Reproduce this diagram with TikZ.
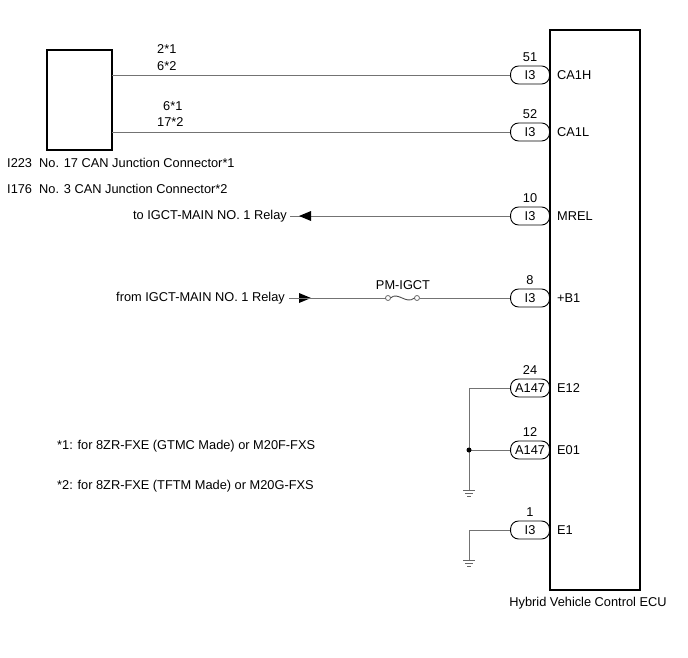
\documentclass[tikz,border=0pt]{standalone}
\usepackage{fontspec}
\setmainfont{Liberation Sans}
\usetikzlibrary{positioning}
\tikzset{
  wire/.style={draw=black!55, line width=0.8pt},
  pill/.style={draw, rounded corners=8pt, minimum width=39pt, minimum height=18pt, inner sep=0pt, line width=0.9pt, anchor=east},
  txt/.style={inner sep=0pt, font=\fontsize{12.8}{15}\selectfont},
  gnd/.pic={\draw[black!60, line width=0.8pt] (-6,0) -- (6,0) (-4,3) -- (4,3) (-2,6) -- (2,6);}
}
\begin{document}
\begin{tikzpicture}[x=1pt,y=-1pt]
\useasboundingbox (0,0) rectangle (688,658);
% boxes
\draw[line width=1.2pt] (47,50) rectangle (112,150);
\draw[line width=1.6pt] (550,30) rectangle (640,590);
\node[txt] (ecu) at (588,603) {Hybrid Vehicle Control ECU};
\node[txt, anchor=west] (j1) at (7,163) {I223\ \ No. 17 CAN Junction Connector*1};
\node[txt, anchor=west] (j2) at (7,189) {I176\ \ No. 3 CAN Junction Connector*2};
% connector pills
\foreach \nm/\yy/\cn/\pin/\sig in {h/75/I3/51/CA1H, l/132/I3/52/CA1L, m/216/I3/10/MREL, b/298/I3/8/+B1, e/388/A147/24/E12, o/450/A147/12/E01, g/530/I3/1/E1}{
  \node[pill, txt, minimum width=39pt, minimum height=18pt] (p\nm) at (550,\yy) {\cn};
  \node[txt] at (530,\yy-18) {\pin};
  \node[txt, anchor=west] at (557,\yy) {\sig};
}
% CAN lines
\coordinate (ch) at (112,75);
\coordinate (cl) at (112,132);
\draw[wire] (ch) -- (ph.west);
\draw[wire] (cl) -- (pl.west);
\node[txt, anchor=west] at (157,49) {2*1};
\node[txt, anchor=west] at (157,66) {6*2};
\node[txt, anchor=west] at (163,106) {6*1};
\node[txt, anchor=west] at (157,122) {17*2};
% MREL
\coordinate (am) at (290,216);
\draw[wire] (pm.west) -- (am);
\fill (299,216) -- (311,211) -- (311,221) -- cycle;
\node[txt, anchor=east] (tom) at (287,216) {to IGCT-MAIN NO. 1 Relay};
% +B1 with fuse
\coordinate (ab) at (289,298);
\fill (311,298) -- (299,293) -- (299,303) -- cycle;
\node[txt, anchor=east] (fromb) at (285,298) {from IGCT-MAIN NO. 1 Relay};
\coordinate (f1) at (388,298);
\coordinate (f2) at (417,298);
\draw[wire] (ab) -- ([xshift=-2.5pt]f1);
\draw[wire] ([xshift=2.5pt]f2) -- (pb.west);
\draw[black!60, line width=0.8pt] (f1) circle (2.5pt) (f2) circle (2.5pt);
\draw[black!70, line width=0.9pt] ([xshift=2.5pt]f1) .. controls (398,291) and (406,305) .. ([xshift=-2.5pt]f2);
\node[txt] (pmi) at (403,285) {PM-IGCT};
% grounds
\coordinate (jn) at (469,450);
\draw[wire] (pe.west) -| (469,490);
\draw[wire] (po.west) -- (jn);
\fill (jn) circle (2.5pt);
\pic at (469,490) {gnd};
\draw[wire] (pg.west) -| (469,560);
\pic at (469,560) {gnd};
% notes
\node[txt, anchor=west] at (57,446) {*1: for 8ZR-FXE (GTMC Made) or M20F-FXS};
\node[txt, anchor=west] at (57,486) {*2: for 8ZR-FXE (TFTM Made) or M20G-FXS};
\end{tikzpicture}
\end{document}
